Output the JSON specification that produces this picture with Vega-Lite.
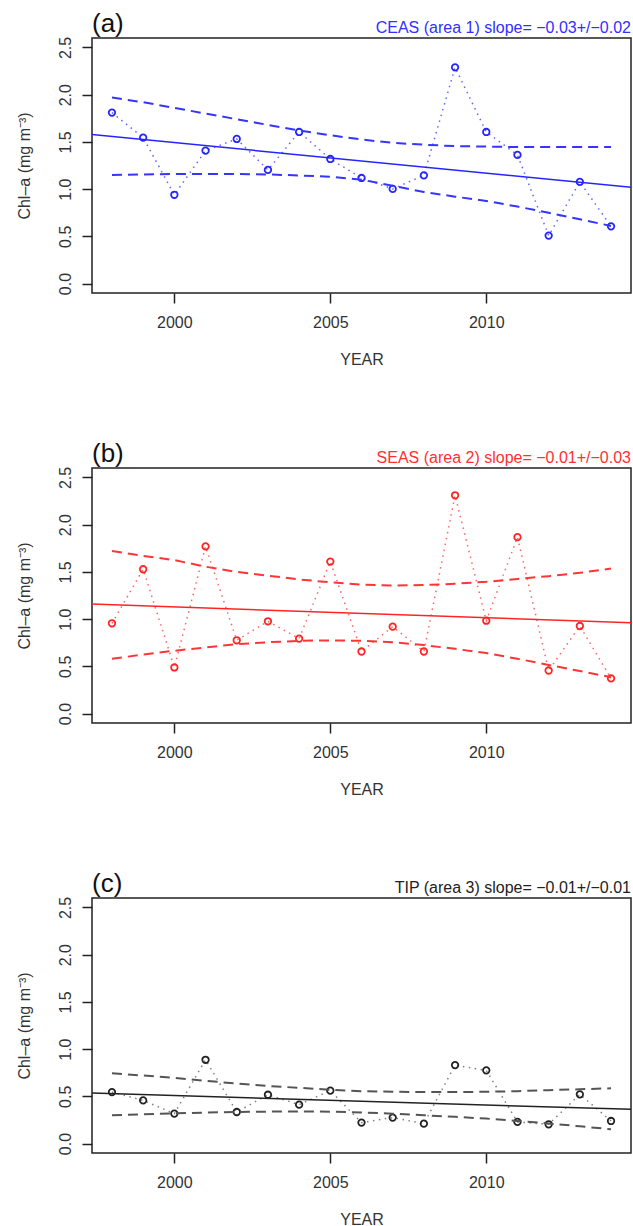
{
  "$schema": "https://vega.github.io/schema/vega-lite/v6.json",
  "padding": {"left": 15, "top": 10, "right": 0, "bottom": 0},
  "bounds": "flush",
  "spacing": 175,
  "config": {
    "font": "Liberation Sans",
    "view": {"stroke": "#222", "strokeWidth": 1.5},
    "axis": {"grid": false, "domain": false, "tickColor": "#222", "tickSize": 10, "tickWidth": 1.5, "labelFontSize": 16, "labelColor": "#333", "titleFontSize": 16, "titleColor": "#333", "titleFontWeight": "normal", "labelFont": "Liberation Sans", "titleFont": "Liberation Sans"},
    "title": {"fontSize": 26, "fontWeight": "normal", "anchor": "start", "frame": "group", "color": "#111", "font": "Liberation Sans", "offset": -17}
  },
  "datasets": {
    "obs": [
      {"panel": "a", "year": 1998, "chl": 1.81, "lo": 1.15, "hi": 1.97},
      {"panel": "a", "year": 1999, "chl": 1.545, "lo": 1.155, "hi": 1.92},
      {"panel": "a", "year": 2000, "chl": 0.94, "lo": 1.16, "hi": 1.86},
      {"panel": "a", "year": 2001, "chl": 1.407, "lo": 1.16, "hi": 1.8},
      {"panel": "a", "year": 2002, "chl": 1.531, "lo": 1.16, "hi": 1.74},
      {"panel": "a", "year": 2003, "chl": 1.203, "lo": 1.155, "hi": 1.68},
      {"panel": "a", "year": 2004, "chl": 1.605, "lo": 1.145, "hi": 1.62},
      {"panel": "a", "year": 2005, "chl": 1.319, "lo": 1.13, "hi": 1.57},
      {"panel": "a", "year": 2006, "chl": 1.118, "lo": 1.1, "hi": 1.525},
      {"panel": "a", "year": 2007, "chl": 1.002, "lo": 1.035, "hi": 1.49},
      {"panel": "a", "year": 2008, "chl": 1.146, "lo": 0.97, "hi": 1.47},
      {"panel": "a", "year": 2009, "chl": 2.289, "lo": 0.92, "hi": 1.455},
      {"panel": "a", "year": 2010, "chl": 1.605, "lo": 0.875, "hi": 1.45},
      {"panel": "a", "year": 2011, "chl": 1.362, "lo": 0.815, "hi": 1.445},
      {"panel": "a", "year": 2012, "chl": 0.508, "lo": 0.75, "hi": 1.445},
      {"panel": "a", "year": 2013, "chl": 1.076, "lo": 0.68, "hi": 1.445},
      {"panel": "a", "year": 2014, "chl": 0.606, "lo": 0.61, "hi": 1.445},
      {"panel": "b", "year": 1998, "chl": 0.956, "lo": 0.58, "hi": 1.72},
      {"panel": "b", "year": 1999, "chl": 1.528, "lo": 0.625, "hi": 1.67},
      {"panel": "b", "year": 2000, "chl": 0.488, "lo": 0.665, "hi": 1.625},
      {"panel": "b", "year": 2001, "chl": 1.77, "lo": 0.7, "hi": 1.555},
      {"panel": "b", "year": 2002, "chl": 0.776, "lo": 0.735, "hi": 1.5},
      {"panel": "b", "year": 2003, "chl": 0.977, "lo": 0.755, "hi": 1.46},
      {"panel": "b", "year": 2004, "chl": 0.794, "lo": 0.77, "hi": 1.42},
      {"panel": "b", "year": 2005, "chl": 1.609, "lo": 0.775, "hi": 1.39},
      {"panel": "b", "year": 2006, "chl": 0.657, "lo": 0.77, "hi": 1.365},
      {"panel": "b", "year": 2007, "chl": 0.92, "lo": 0.755, "hi": 1.355},
      {"panel": "b", "year": 2008, "chl": 0.657, "lo": 0.725, "hi": 1.36},
      {"panel": "b", "year": 2009, "chl": 2.311, "lo": 0.685, "hi": 1.375},
      {"panel": "b", "year": 2010, "chl": 0.983, "lo": 0.64, "hi": 1.395},
      {"panel": "b", "year": 2011, "chl": 1.868, "lo": 0.58, "hi": 1.425},
      {"panel": "b", "year": 2012, "chl": 0.456, "lo": 0.515, "hi": 1.455},
      {"panel": "b", "year": 2013, "chl": 0.927, "lo": 0.45, "hi": 1.49},
      {"panel": "b", "year": 2014, "chl": 0.372, "lo": 0.385, "hi": 1.535},
      {"panel": "c", "year": 1998, "chl": 0.545, "lo": 0.3, "hi": 0.745},
      {"panel": "c", "year": 1999, "chl": 0.457, "lo": 0.31, "hi": 0.72},
      {"panel": "c", "year": 2000, "chl": 0.317, "lo": 0.32, "hi": 0.695},
      {"panel": "c", "year": 2001, "chl": 0.887, "lo": 0.328, "hi": 0.665},
      {"panel": "c", "year": 2002, "chl": 0.334, "lo": 0.334, "hi": 0.635},
      {"panel": "c", "year": 2003, "chl": 0.517, "lo": 0.338, "hi": 0.61},
      {"panel": "c", "year": 2004, "chl": 0.412, "lo": 0.34, "hi": 0.59},
      {"panel": "c", "year": 2005, "chl": 0.56, "lo": 0.338, "hi": 0.57},
      {"panel": "c", "year": 2006, "chl": 0.222, "lo": 0.33, "hi": 0.555},
      {"panel": "c", "year": 2007, "chl": 0.275, "lo": 0.316, "hi": 0.548},
      {"panel": "c", "year": 2008, "chl": 0.211, "lo": 0.3, "hi": 0.545},
      {"panel": "c", "year": 2009, "chl": 0.831, "lo": 0.283, "hi": 0.545},
      {"panel": "c", "year": 2010, "chl": 0.775, "lo": 0.264, "hi": 0.548},
      {"panel": "c", "year": 2011, "chl": 0.229, "lo": 0.24, "hi": 0.555},
      {"panel": "c", "year": 2012, "chl": 0.204, "lo": 0.212, "hi": 0.565},
      {"panel": "c", "year": 2013, "chl": 0.521, "lo": 0.183, "hi": 0.575},
      {"panel": "c", "year": 2014, "chl": 0.239, "lo": 0.151, "hi": 0.585}
    ],
    "fit": [
      {"panel": "a", "year": 1997.36, "fit": 1.578},
      {"panel": "a", "year": 2014.64, "fit": 1.019},
      {"panel": "b", "year": 1997.36, "fit": 1.159},
      {"panel": "b", "year": 2014.64, "fit": 0.962},
      {"panel": "c", "year": 1997.36, "fit": 0.535},
      {"panel": "c", "year": 2014.64, "fit": 0.362}
    ]
  },
  "vconcat": [
    {
      "width": 539, "height": 255,
      "title": {"text": "(a)"},
      "data": {"name": "obs"},
      "transform": [{"filter": "datum.panel === 'a'"}],
      "layer": [
        {"mark": {"type": "line", "strokeDash": [1.5, 4.5], "strokeWidth": 1.5, "color": "#3030ff", "opacity": 0.75},
         "encoding": {
           "x": {"field": "year", "type": "quantitative", "scale": {"domain": [1997.36, 2014.64], "nice": false, "zero": false}, "axis": {"values": [2000, 2005, 2010], "format": "d", "title": "YEAR", "labelPadding": 11, "titlePadding": 21}},
           "y": {"field": "chl", "type": "quantitative", "title": "Chl–a (mg m⁻³)", "scale": {"domain": [-0.1, 2.6], "nice": false, "zero": false}, "axis": {"values": [0, 0.5, 1, 1.5, 2, 2.5], "format": ".1f", "labelAngle": -90, "labelPadding": 9, "titlePadding": 25}}}},
        {"mark": {"type": "point", "shape": "circle", "filled": false, "size": 42, "strokeWidth": 1.8, "color": "#2525ff", "opacity": 1},
         "encoding": {"x": {"field": "year", "type": "quantitative"}, "y": {"field": "chl", "type": "quantitative", "title": "Chl–a (mg m⁻³)"}}},
        {"mark": {"type": "line", "strokeDash": [10, 6], "strokeWidth": 2, "color": "#3535ff"},
         "encoding": {"x": {"field": "year", "type": "quantitative"}, "y": {"field": "lo", "type": "quantitative", "title": "Chl–a (mg m⁻³)"}}},
        {"mark": {"type": "line", "strokeDash": [10, 6], "strokeWidth": 2, "color": "#3535ff"},
         "encoding": {"x": {"field": "year", "type": "quantitative"}, "y": {"field": "hi", "type": "quantitative", "title": "Chl–a (mg m⁻³)"}}},
        {"data": {"name": "fit"}, "transform": [{"filter": "datum.panel === 'a'"}],
         "mark": {"type": "line", "strokeWidth": 1.5, "color": "#2525ff", "clip": true},
         "encoding": {"x": {"field": "year", "type": "quantitative"}, "y": {"field": "fit", "type": "quantitative", "title": "Chl–a (mg m⁻³)"}}},
        {"data": {"values": [{"label": "CEAS (area 1) slope= −0.03+/−0.02"}]},
         "mark": {"type": "text", "align": "right", "baseline": "alphabetic", "dy": -5, "fontSize": 16, "color": "#3030ff"},
         "encoding": {"x": {"datum": 2014.64, "type": "quantitative"}, "y": {"datum": 2.6, "type": "quantitative"}, "text": {"field": "label"}}}
      ]
    },
    {
      "width": 539, "height": 255,
      "title": {"text": "(b)"},
      "data": {"name": "obs"},
      "transform": [{"filter": "datum.panel === 'b'"}],
      "layer": [
        {"mark": {"type": "line", "strokeDash": [1.5, 4.5], "strokeWidth": 1.5, "color": "#ff3030", "opacity": 0.75},
         "encoding": {
           "x": {"field": "year", "type": "quantitative", "scale": {"domain": [1997.36, 2014.64], "nice": false, "zero": false}, "axis": {"values": [2000, 2005, 2010], "format": "d", "title": "YEAR", "labelPadding": 11, "titlePadding": 21}},
           "y": {"field": "chl", "type": "quantitative", "title": "Chl–a (mg m⁻³)", "scale": {"domain": [-0.1, 2.6], "nice": false, "zero": false}, "axis": {"values": [0, 0.5, 1, 1.5, 2, 2.5], "format": ".1f", "labelAngle": -90, "labelPadding": 9, "titlePadding": 25}}}},
        {"mark": {"type": "point", "shape": "circle", "filled": false, "size": 42, "strokeWidth": 1.8, "color": "#ff2525", "opacity": 1},
         "encoding": {"x": {"field": "year", "type": "quantitative"}, "y": {"field": "chl", "type": "quantitative", "title": "Chl–a (mg m⁻³)"}}},
        {"mark": {"type": "line", "strokeDash": [10, 6], "strokeWidth": 2, "color": "#ff3535"},
         "encoding": {"x": {"field": "year", "type": "quantitative"}, "y": {"field": "lo", "type": "quantitative", "title": "Chl–a (mg m⁻³)"}}},
        {"mark": {"type": "line", "strokeDash": [10, 6], "strokeWidth": 2, "color": "#ff3535"},
         "encoding": {"x": {"field": "year", "type": "quantitative"}, "y": {"field": "hi", "type": "quantitative", "title": "Chl–a (mg m⁻³)"}}},
        {"data": {"name": "fit"}, "transform": [{"filter": "datum.panel === 'b'"}],
         "mark": {"type": "line", "strokeWidth": 1.5, "color": "#ff2525", "clip": true},
         "encoding": {"x": {"field": "year", "type": "quantitative"}, "y": {"field": "fit", "type": "quantitative", "title": "Chl–a (mg m⁻³)"}}},
        {"data": {"values": [{"label": "SEAS (area 2) slope= −0.01+/−0.03"}]},
         "mark": {"type": "text", "align": "right", "baseline": "alphabetic", "dy": -5, "fontSize": 16, "color": "#ff3030"},
         "encoding": {"x": {"datum": 2014.64, "type": "quantitative"}, "y": {"datum": 2.6, "type": "quantitative"}, "text": {"field": "label"}}}
      ]
    },
    {
      "width": 539, "height": 255,
      "title": {"text": "(c)"},
      "data": {"name": "obs"},
      "transform": [{"filter": "datum.panel === 'c'"}],
      "layer": [
        {"mark": {"type": "line", "strokeDash": [1.5, 4.5], "strokeWidth": 1.5, "color": "#555555", "opacity": 0.75},
         "encoding": {
           "x": {"field": "year", "type": "quantitative", "scale": {"domain": [1997.36, 2014.64], "nice": false, "zero": false}, "axis": {"values": [2000, 2005, 2010], "format": "d", "title": "YEAR", "labelPadding": 11, "titlePadding": 21}},
           "y": {"field": "chl", "type": "quantitative", "title": "Chl–a (mg m⁻³)", "scale": {"domain": [-0.1, 2.6], "nice": false, "zero": false}, "axis": {"values": [0, 0.5, 1, 1.5, 2, 2.5], "format": ".1f", "labelAngle": -90, "labelPadding": 9, "titlePadding": 25}}}},
        {"mark": {"type": "point", "shape": "circle", "filled": false, "size": 42, "strokeWidth": 1.8, "color": "#222222", "opacity": 1},
         "encoding": {"x": {"field": "year", "type": "quantitative"}, "y": {"field": "chl", "type": "quantitative", "title": "Chl–a (mg m⁻³)"}}},
        {"mark": {"type": "line", "strokeDash": [10, 6], "strokeWidth": 2, "color": "#555555"},
         "encoding": {"x": {"field": "year", "type": "quantitative"}, "y": {"field": "lo", "type": "quantitative", "title": "Chl–a (mg m⁻³)"}}},
        {"mark": {"type": "line", "strokeDash": [10, 6], "strokeWidth": 2, "color": "#555555"},
         "encoding": {"x": {"field": "year", "type": "quantitative"}, "y": {"field": "hi", "type": "quantitative", "title": "Chl–a (mg m⁻³)"}}},
        {"data": {"name": "fit"}, "transform": [{"filter": "datum.panel === 'c'"}],
         "mark": {"type": "line", "strokeWidth": 1.5, "color": "#222222", "clip": true},
         "encoding": {"x": {"field": "year", "type": "quantitative"}, "y": {"field": "fit", "type": "quantitative", "title": "Chl–a (mg m⁻³)"}}},
        {"data": {"values": [{"label": "TIP (area 3) slope= −0.01+/−0.01"}]},
         "mark": {"type": "text", "align": "right", "baseline": "alphabetic", "dy": -5, "fontSize": 16, "color": "#222222"},
         "encoding": {"x": {"datum": 2014.64, "type": "quantitative"}, "y": {"datum": 2.6, "type": "quantitative"}, "text": {"field": "label"}}}
      ]
    }
  ]
}
